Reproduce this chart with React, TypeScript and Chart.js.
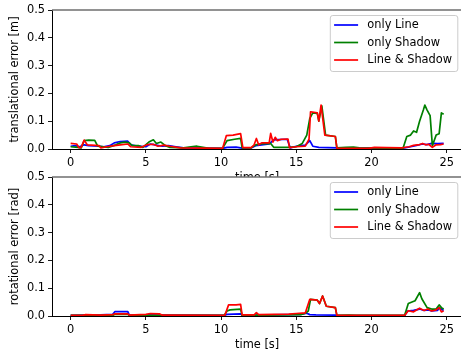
import React, { useEffect, useRef } from "react";
import { Chart, registerables } from "chart.js";

Chart.register(...registerables);

type Pt = [number, number];

// ---- data -------------------------------------------------------------
const seriesNames = ["only Line", "only Shadow", "Line & Shadow"];
const seriesColors = ["#0000ff", "#008000", "#ff0000"];
const xTicks = [0, 5, 10, 15, 20, 25];
const yTicks = [0, 0.1, 0.2, 0.3, 0.4, 0.5];
const xLimits = [-1.24, 26.04];
const yLimits = [0, 0.5];

// translational error [m] over time [s]
const transLine: Pt[] = [
  [0, 0.010], [0.3, 0.012], [0.6, 0.008], [0.9, 0.015], [1.2, 0.012], [1.9, 0.010],
  [2.2, 0.008], [2.6, 0.012], [2.9, 0.022], [3.3, 0.027], [3.8, 0.028], [4.0, 0.015],
  [4.5, 0.010], [5.0, 0.008], [5.3, 0.018], [5.6, 0.015], [6.1, 0.010], [6.5, 0.012],
  [7.0, 0.008], [7.5, 0.004], [8.5, 0.003], [10.1, 0.002], [10.4, 0.006], [11.0, 0.007],
  [11.4, 0.003], [12.0, 0.004], [12.3, 0.012], [12.7, 0.015], [13.2, 0.018], [13.5, 0.033],
  [13.8, 0.034], [14.4, 0.035], [14.6, 0.004], [15.0, 0.010], [15.6, 0.014], [15.9, 0.030],
  [16.1, 0.010], [16.5, 0.006], [17.7, 0.004], [17.8, 0.002], [20.0, 0.003], [22.2, 0.004],
  [22.6, 0.008], [23.0, 0.013], [23.4, 0.018], [23.7, 0.016], [24.0, 0.020], [24.4, 0.019],
  [24.8, 0.020],
];

const transShadow: Pt[] = [
  [0, 0.008], [0.5, 0.006], [0.7, 0.004], [0.9, 0.030], [1.2, 0.032], [1.6, 0.031],
  [1.8, 0.010], [2.5, 0.006], [3.0, 0.015], [3.3, 0.022], [3.6, 0.025], [3.9, 0.022],
  [4.1, 0.012], [4.5, 0.012], [4.8, 0.006], [5.2, 0.025], [5.5, 0.033], [5.7, 0.020],
  [6.0, 0.025], [6.3, 0.012], [6.6, 0.006], [7.5, 0.004], [8.0, 0.008], [8.4, 0.010],
  [8.8, 0.006], [9.2, 0.002], [10.1, 0.002], [10.4, 0.030], [10.9, 0.035], [11.3, 0.038],
  [11.4, 0.004], [12.0, 0.004], [12.3, 0.015], [12.6, 0.018], [13.3, 0.020], [13.5, 0.006],
  [14.5, 0.006], [15.0, 0.008], [15.4, 0.020], [15.7, 0.050], [15.9, 0.110], [16.1, 0.130],
  [16.4, 0.128], [16.5, 0.100], [16.7, 0.155], [16.95, 0.050], [17.6, 0.045], [17.7, 0.004],
  [18.3, 0.006], [18.8, 0.007], [19.2, 0.004], [21.5, 0.003], [22.1, 0.003], [22.35, 0.045],
  [22.6, 0.050], [22.8, 0.065], [23.0, 0.060], [23.2, 0.100], [23.45, 0.140], [23.55, 0.158],
  [23.7, 0.140], [23.9, 0.120], [24.05, 0.012], [24.3, 0.050], [24.5, 0.055], [24.65, 0.130],
  [24.8, 0.125],
];

const transBoth: Pt[] = [
  [0, 0.020], [0.4, 0.018], [0.55, 0.005], [0.7, 0.006], [0.9, 0.032], [1.1, 0.015],
  [1.9, 0.012], [2.0, 0.004], [2.4, 0.008], [2.9, 0.012], [3.3, 0.015], [3.8, 0.018],
  [4.0, 0.008], [4.7, 0.006], [5.1, 0.016], [5.5, 0.017], [5.8, 0.010], [6.2, 0.014],
  [6.6, 0.010], [7.3, 0.004], [10.1, 0.002], [10.35, 0.048], [10.8, 0.050], [11.3, 0.055],
  [11.45, 0.005], [12.0, 0.005], [12.2, 0.015], [12.35, 0.038], [12.5, 0.015], [12.7, 0.022],
  [13.2, 0.022], [13.3, 0.056], [13.45, 0.025], [13.6, 0.042], [13.75, 0.030], [14.0, 0.035],
  [14.45, 0.036], [14.55, 0.005], [15.0, 0.008], [15.6, 0.010], [15.85, 0.035], [15.95, 0.134],
  [16.4, 0.130], [16.5, 0.100], [16.65, 0.158], [16.9, 0.050], [17.6, 0.045], [17.7, 0.003],
  [19.8, 0.002], [20.2, 0.006], [21.0, 0.005], [22.0, 0.004], [22.5, 0.008], [22.8, 0.013],
  [23.2, 0.016], [23.4, 0.020], [23.6, 0.015], [23.8, 0.017], [24.05, 0.006], [24.3, 0.015],
  [24.6, 0.016], [24.8, 0.018],
];

// rotational error [rad] over time [s]
const rotLine: Pt[] = [
  [0, 0.002], [1.0, 0.003], [2.0, 0.004], [2.8, 0.006], [2.95, 0.016], [3.8, 0.016],
  [3.9, 0.003], [5.0, 0.004], [6.0, 0.003], [10.2, 0.002], [10.4, 0.006], [11.3, 0.008],
  [11.4, 0.002], [15.3, 0.006], [15.7, 0.010], [15.9, 0.005], [16.3, 0.004], [17.6, 0.003],
  [17.7, 0.001], [22.2, 0.001], [22.4, 0.018], [22.8, 0.020], [23.2, 0.025], [23.5, 0.020],
  [23.8, 0.022], [24.0, 0.018], [24.4, 0.020], [24.5, 0.030], [24.8, 0.020],
];

const rotShadow: Pt[] = [
  [0, 0.002], [2.8, 0.002], [2.95, 0.006], [3.8, 0.006], [3.9, 0.002], [10.2, 0.002],
  [10.4, 0.018], [10.6, 0.022], [11.3, 0.025], [11.4, 0.002], [15.3, 0.005], [15.6, 0.010],
  [15.8, 0.018], [15.95, 0.060], [16.4, 0.057], [16.55, 0.045], [16.75, 0.072], [17.0, 0.035],
  [17.6, 0.030], [17.7, 0.002], [18.5, 0.003], [19.0, 0.002], [22.2, 0.002], [22.45, 0.045],
  [22.9, 0.055], [23.2, 0.084], [23.35, 0.062], [23.7, 0.030], [24.0, 0.025], [24.3, 0.025],
  [24.5, 0.040], [24.65, 0.030], [24.8, 0.025],
];

const rotBoth: Pt[] = [
  [0, 0.002], [0.8, 0.002], [1.0, 0.005], [2.0, 0.003], [2.8, 0.005], [2.95, 0.008],
  [3.8, 0.008], [3.9, 0.003], [5.0, 0.006], [5.3, 0.009], [5.9, 0.008], [6.1, 0.003],
  [10.25, 0.002], [10.5, 0.040], [11.0, 0.040], [11.3, 0.042], [11.4, 0.004], [12.2, 0.004],
  [12.35, 0.012], [12.5, 0.005], [13.5, 0.006], [14.5, 0.007], [15.0, 0.009], [15.6, 0.011],
  [15.9, 0.060], [16.4, 0.057], [16.55, 0.045], [16.75, 0.072], [17.0, 0.035], [17.6, 0.030],
  [17.7, 0.002], [22.2, 0.002], [22.45, 0.019], [22.8, 0.015], [23.2, 0.028], [23.5, 0.020],
  [23.75, 0.025], [24.0, 0.018], [24.3, 0.022], [24.5, 0.030], [24.65, 0.015], [24.8, 0.018],
];

// ---- styling ----------------------------------------------------------
const FAMILY = '"DejaVu Sans", sans-serif';
const FS = 11.4;
const CANVAS_W = 470;
const PLOT_RIGHT = 462.3;

// white axes face + top spine + framed legend in the upper-right corner
const axesDecor = {
  id: "axesDecor",
  beforeDraw(chart: any) {
    const { ctx, chartArea: a } = chart;
    ctx.save();
    ctx.fillStyle = "#ffffff";
    ctx.fillRect(a.left, a.top, a.right - a.left, a.bottom - a.top);
    ctx.restore();
  },
  afterDraw(chart: any) {
    const { ctx, chartArea: a } = chart;
    ctx.save();
    ctx.strokeStyle = "#6e6e6e";
    ctx.lineWidth = 1.4;
    ctx.beginPath();
    ctx.moveTo(a.left, a.top);
    ctx.lineTo(a.right, a.top);
    ctx.stroke();

    const w = 127.5;
    const h = 56;
    const x = a.right - 5 - w;
    const y = a.top + 5;
    ctx.beginPath();
    ctx.roundRect(x + 0.5, y + 0.5, w, h, 2.5);
    ctx.fillStyle = "rgba(255,255,255,0.8)";
    ctx.fill();
    ctx.strokeStyle = "#cccccc";
    ctx.lineWidth = 1;
    ctx.stroke();

    ctx.font = `${FS}px ${FAMILY}`;
    ctx.textBaseline = "middle";
    ctx.textAlign = "left";
    seriesNames.forEach((name, i) => {
      const ry = y + 10 + i * 17.5;
      ctx.strokeStyle = seriesColors[i];
      ctx.lineWidth = 1.7;
      ctx.beginPath();
      ctx.moveTo(x + 4.3, ry);
      ctx.lineTo(x + 28.3, ry);
      ctx.stroke();
      ctx.fillStyle = "#000000";
      ctx.fillText(name, x + 37.5, ry + 0.5);
    });
    ctx.restore();
  },
};

function buildConfig(
  series: Pt[][],
  yTitle: string,
  padTop: number,
  xAxisHeight: number,
  xTitlePadBottom: number
): any {
  const font = { family: FAMILY, size: FS };
  return {
    type: "line",
    data: {
      datasets: series.map((pts, i) => ({
        label: seriesNames[i],
        data: pts.map(([x, y]) => ({ x, y })),
        borderColor: seriesColors[i],
        backgroundColor: seriesColors[i],
        borderWidth: 1.7,
        pointRadius: 0,
        tension: 0,
        fill: false,
        borderJoinStyle: "round",
        order: 3 - i,
      })),
    },
    options: {
      animation: false,
      responsive: false,
      devicePixelRatio: 1,
      layout: { padding: { left: 0, right: CANVAS_W - PLOT_RIGHT, top: padTop, bottom: 0 } },
      plugins: { legend: { display: false }, tooltip: { enabled: false } },
      scales: {
        x: {
          type: "linear",
          min: xLimits[0],
          max: xLimits[1],
          afterBuildTicks: (s: any) => {
            s.ticks = xTicks.map((v) => ({ value: v }));
          },
          afterFit: (s: any) => {
            s.height = xAxisHeight;
          },
          ticks: {
            color: "#000",
            font,
            padding: 3,
            maxRotation: 0,
            autoSkip: false,
            callback: (v: any) => String(v),
          },
          grid: {
            display: true,
            drawOnChartArea: false,
            drawTicks: true,
            tickLength: 4,
            color: "#000",
            lineWidth: 0.9,
          },
          border: { display: true, color: "#000", width: 1 },
          title: {
            display: true,
            text: "time [s]",
            color: "#000",
            font,
            padding: { top: 0, bottom: xTitlePadBottom },
          },
        },
        y: {
          type: "linear",
          min: yLimits[0],
          max: yLimits[1],
          afterBuildTicks: (s: any) => {
            s.ticks = yTicks.map((v) => ({ value: v }));
          },
          afterFit: (s: any) => {
            s.width = 52;
          },
          ticks: {
            color: "#000",
            font,
            padding: 3,
            callback: (v: any) => Number(v).toFixed(1),
          },
          grid: {
            display: true,
            drawOnChartArea: false,
            drawTicks: true,
            tickLength: 4,
            color: "#000",
            lineWidth: 0.9,
          },
          border: { display: true, color: "#000", width: 1 },
          title: {
            display: true,
            text: yTitle,
            color: "#000",
            font,
            padding: { top: 8, bottom: 0 },
          },
        },
      },
    },
    plugins: [axesDecor],
  };
}

export default function App() {
  const topRef = useRef<HTMLCanvasElement | null>(null);
  const botRef = useRef<HTMLCanvasElement | null>(null);

  useEffect(() => {
    document.body.style.margin = "0";
    const top = new Chart(
      topRef.current as HTMLCanvasElement,
      buildConfig([transLine, transShadow, transBoth], "translational error [m]", 10, 41, 5.2)
    );
    const bot = new Chart(
      botRef.current as HTMLCanvasElement,
      buildConfig([rotLine, rotShadow, rotBoth], "rotational error [rad]", 12, 36, 0.2)
    );
    return () => {
      top.destroy();
      bot.destroy();
    };
  }, []);

  return (
    <div
      style={{
        position: "fixed",
        left: 0,
        top: 0,
        width: 461,
        height: 352,
        overflow: "hidden",
        background: "#ffffff",
      }}
    >
      <canvas
        ref={topRef}
        width={CANVAS_W}
        height={190}
        style={{ position: "absolute", left: 0, top: 0, width: CANVAS_W, height: 190 }}
      />
      <canvas
        ref={botRef}
        width={CANVAS_W}
        height={187}
        style={{ position: "absolute", left: 0, top: 165, width: CANVAS_W, height: 187 }}
      />
    </div>
  );
}
